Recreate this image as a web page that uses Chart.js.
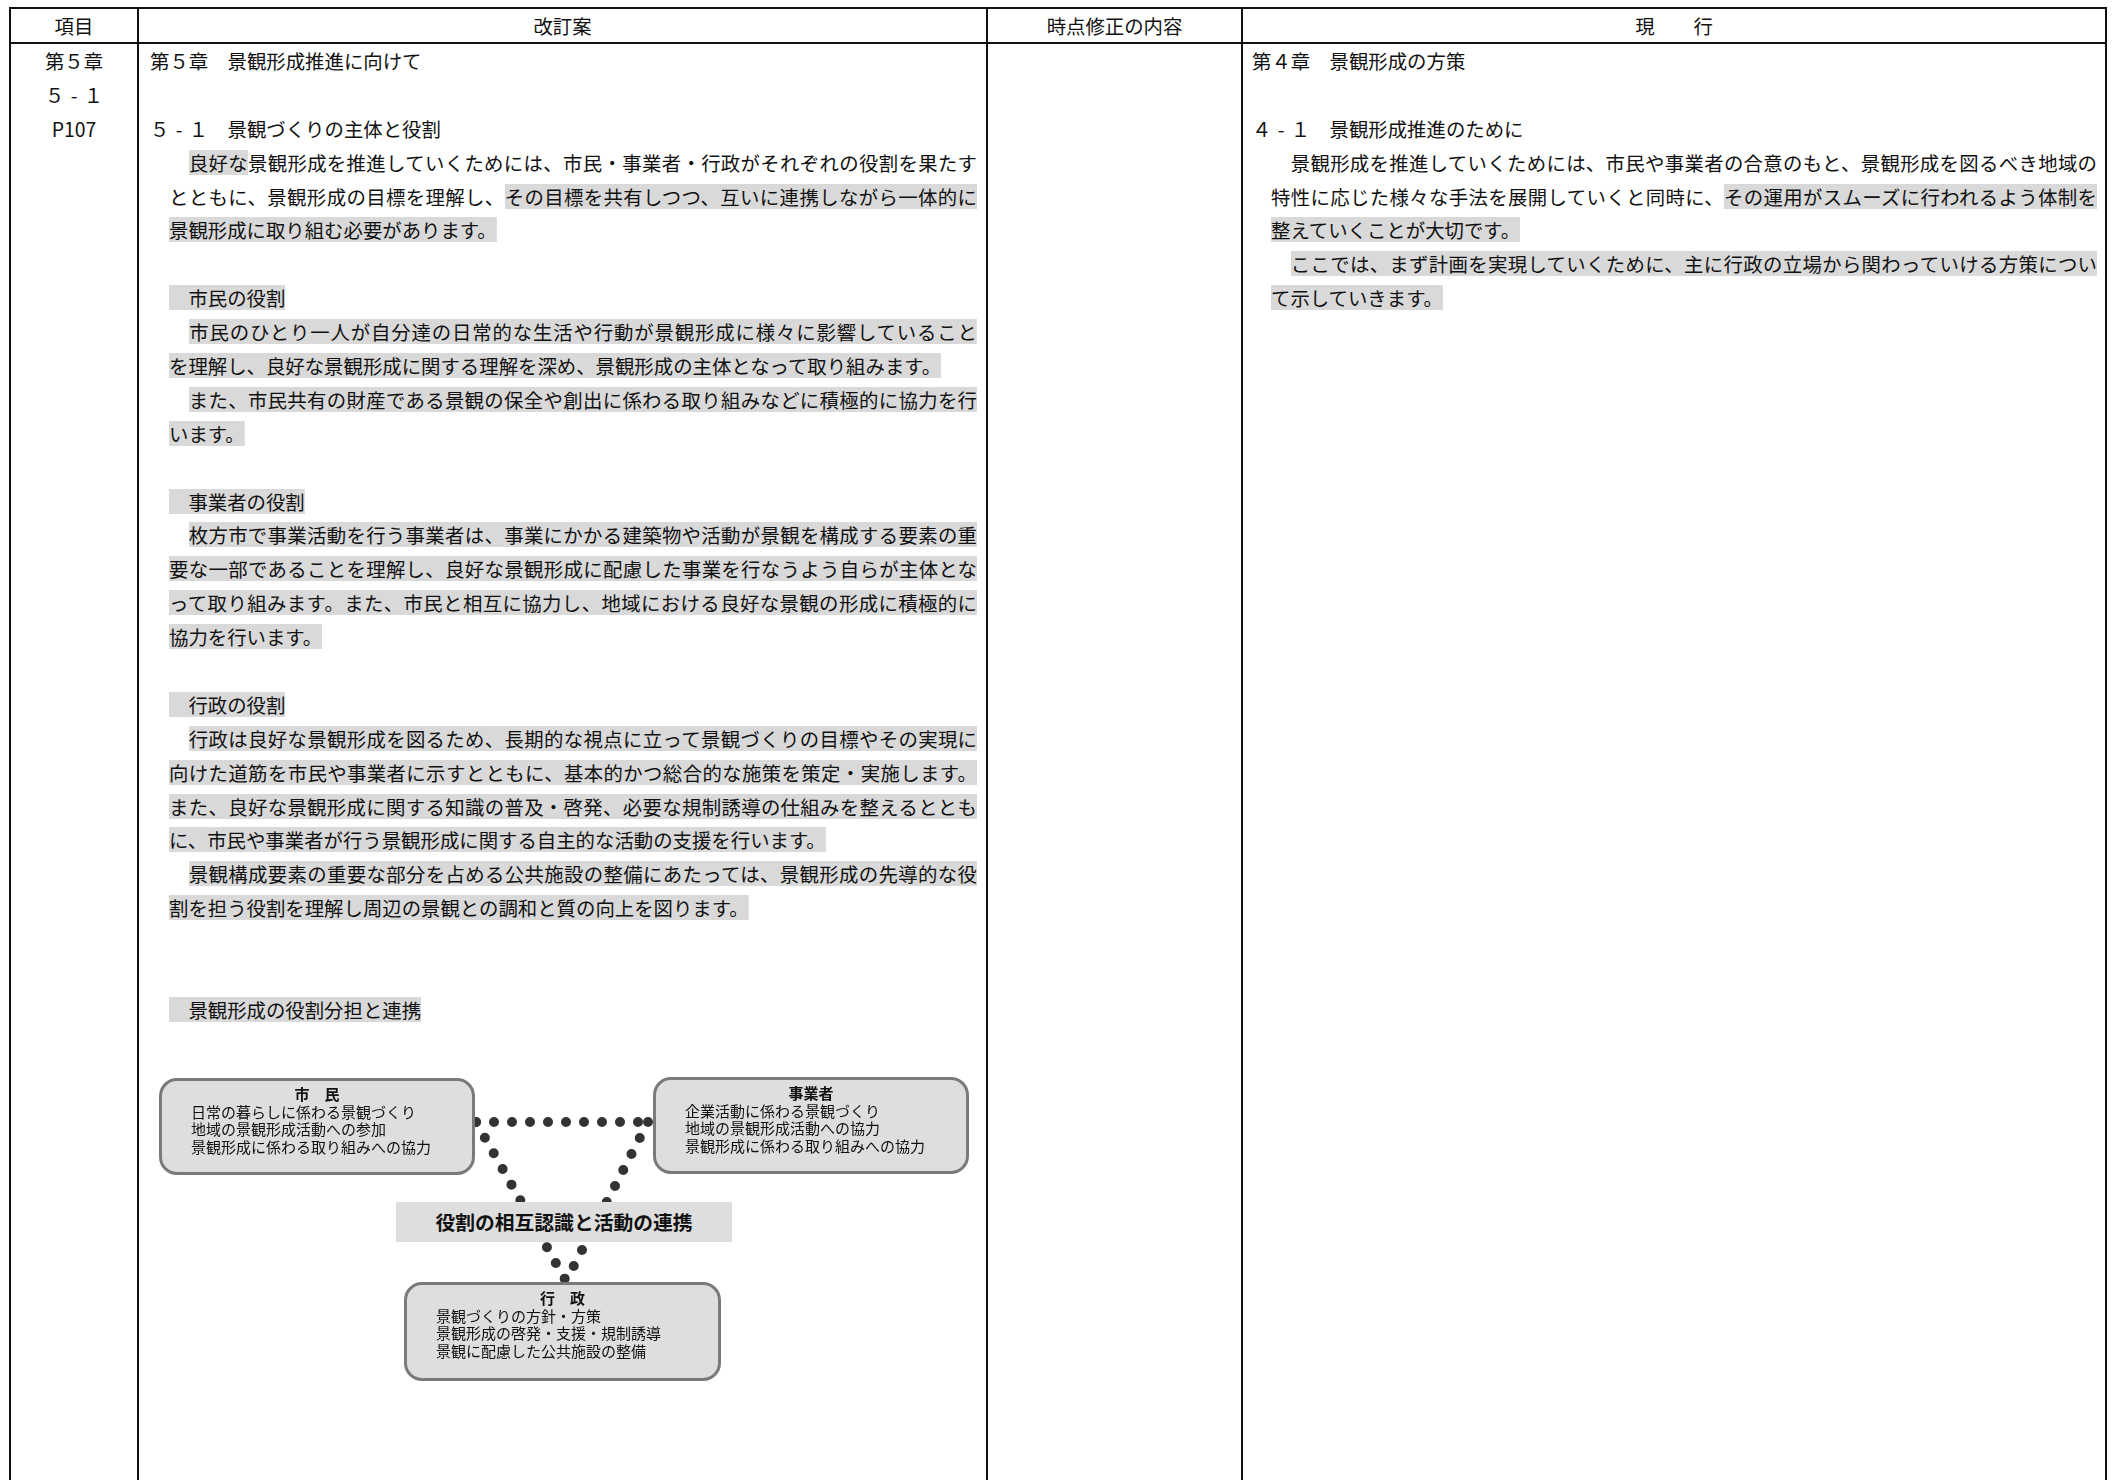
<!DOCTYPE html>
<html lang="ja">
<head>
<meta charset="utf-8">
<script src="https://cdn.jsdelivr.net/npm/chart.js"></script>
<style>
  html, body { margin: 0; padding: 0; background: #fff; }
  body { width: 2116px; height: 1480px; overflow: hidden; position: relative;
         font-family: "Noto Sans CJK JP", "Noto Sans", sans-serif; font-size: 19.4px; color: #111; }
  .vl { position: absolute; top: 7px; width: 2px; height: 1480px; background: #111; }
  .hr { position: absolute; left: 10px; width: 2097px; height: 2px; background: #111; }
  .th { position: absolute; top: 9px; height: 33px; line-height: 33px; text-align: center; }
  .col { position: absolute; top: 44px; }
  .l { height: 33.9px; line-height: 33.9px; white-space: pre; }
  .b { margin-left: 19px; white-space: normal; }
  .j { text-align: justify; text-align-last: justify; }
  .hl { background: linear-gradient(#d9d9d9, #d9d9d9) center / 100% 25px no-repeat; }
  .dash { display: inline-block; width: 1em; text-align: center; }
  .box { position: absolute; box-sizing: border-box; border: 3px solid #7a7a7a; border-radius: 18px;
         background: #dedede; padding: 4px 0 0 29px; font-size: 15px; line-height: 17.5px; z-index: 2; }
  .box .t { font-weight: 700; text-align: center; margin-left: -29px; }
  .lab { position: absolute; left: 396px; top: 1202px; width: 336px; height: 40px; background: #dedede;
         line-height: 40px; text-align: center; font-weight: 700; font-size: 19.8px; z-index: 2; }
  #links { position: absolute; left: 150px; top: 1060px; z-index: 1; }
</style>
</head>
<body>
<!-- table rules -->
<div class="hr" style="top:7px"></div>
<div class="hr" style="top:42px"></div>
<div class="vl" style="left:9px"></div>
<div class="vl" style="left:137px"></div>
<div class="vl" style="left:986px"></div>
<div class="vl" style="left:1241px"></div>
<div class="vl" style="left:2105px"></div>

<div class="th" style="left:11px;width:126px">項目</div>
<div class="th" style="left:139px;width:847px">改訂案</div>
<div class="th" style="left:988px;width:253px">時点修正の内容</div>
<div class="th" style="left:1243px;width:862px">現　　行</div>

<div class="col" style="left:11px;width:126px;text-align:center">
  <div class="l">第５章</div>
  <div class="l">５<span class="dash">-</span>１</div>
  <div class="l">P107</div>
</div>

<div class="col" style="left:150px">
  <div class="l">第５章　景観形成推進に向けて</div>
  <div class="l"></div>
  <div class="l">５<span class="dash">-</span>１　景観づくりの主体と役割</div>
  <div class="l b j" style="width:808px">　<span class="hl">良好な</span>景観形成を推進していくためには、市民・事業者・行政がそれぞれの役割を果たす</div>
  <div class="l b j" style="width:808px">とともに、景観形成の目標を理解し、<span class="hl">その目標を共有しつつ、互いに連携しながら一体的に</span></div>
  <div class="l b"><span class="hl">景観形成に取り組む必要があります。 </span></div>
  <div class="l"></div>
  <div class="l b"><span class="hl">　市民の役割</span></div>
  <div class="l b j" style="width:808px">　<span class="hl">市民のひとり一人が自分達の日常的な生活や行動が景観形成に様々に影響していること</span></div>
  <div class="l b"><span class="hl">を理解し、良好な景観形成に関する理解を深め、景観形成の主体となって取り組みます。 </span></div>
  <div class="l b j" style="width:808px">　<span class="hl">また、市民共有の財産である景観の保全や創出に係わる取り組みなどに積極的に協力を行</span></div>
  <div class="l b"><span class="hl">います。 </span></div>
  <div class="l"></div>
  <div class="l b"><span class="hl">　事業者の役割</span></div>
  <div class="l b j" style="width:808px">　<span class="hl">枚方市で事業活動を行う事業者は、事業にかかる建築物や活動が景観を構成する要素の重</span></div>
  <div class="l b j" style="width:808px"><span class="hl">要な一部であることを理解し、良好な景観形成に配慮した事業を行なうよう自らが主体とな</span></div>
  <div class="l b j" style="width:808px"><span class="hl">って取り組みます。また、市民と相互に協力し、地域における良好な景観の形成に積極的に</span></div>
  <div class="l b"><span class="hl">協力を行います。 </span></div>
  <div class="l"></div>
  <div class="l b"><span class="hl">　行政の役割</span></div>
  <div class="l b j" style="width:808px">　<span class="hl">行政は良好な景観形成を図るため、長期的な視点に立って景観づくりの目標やその実現に</span></div>
  <div class="l b j" style="width:808px"><span class="hl">向けた道筋を市民や事業者に示すとともに、基本的かつ総合的な施策を策定・実施します。</span></div>
  <div class="l b j" style="width:808px"><span class="hl">また、良好な景観形成に関する知識の普及・啓発、必要な規制誘導の仕組みを整えるととも</span></div>
  <div class="l b"><span class="hl">に、市民や事業者が行う景観形成に関する自主的な活動の支援を行います。 </span></div>
  <div class="l b j" style="width:808px">　<span class="hl">景観構成要素の重要な部分を占める公共施設の整備にあたっては、景観形成の先導的な役</span></div>
  <div class="l b"><span class="hl">割を担う役割を理解し周辺の景観との調和と質の向上を図ります。 </span></div>
  <div class="l"></div>
  <div class="l"></div>
  <div class="l b"><span class="hl">　景観形成の役割分担と連携</span></div>
</div>

<div class="col" style="left:1252px">
  <div class="l">第４章　景観形成の方策</div>
  <div class="l"></div>
  <div class="l">４<span class="dash">-</span>１　景観形成推進のために</div>
  <div class="l b j" style="width:826px">　景観形成を推進していくためには、市民や事業者の合意のもと、景観形成を図るべき地域の</div>
  <div class="l b j" style="width:826px">特性に応じた様々な手法を展開していくと同時に、<span class="hl">その運用がスムーズに行われるよう体制を</span></div>
  <div class="l b"><span class="hl">整えていくことが大切です。 </span></div>
  <div class="l b j" style="width:826px">　<span class="hl">ここでは、まず計画を実現していくために、主に行政の立場から関わっていける方策につい</span></div>
  <div class="l b"><span class="hl">て示していきます。 </span></div>
</div>

<!-- diagram -->
<div class="box" style="left:159px;top:1078px;width:316px;height:97px">
  <div class="t">市　民</div>
  <div>日常の暮らしに係わる景観づくり</div>
  <div>地域の景観形成活動への参加</div>
  <div>景観形成に係わる取り組みへの協力</div>
</div>
<div class="box" style="left:653px;top:1077px;width:316px;height:97px">
  <div class="t">事業者</div>
  <div>企業活動に係わる景観づくり</div>
  <div>地域の景観形成活動への協力</div>
  <div>景観形成に係わる取り組みへの協力</div>
</div>
<div class="box" style="left:404px;top:1282px;width:317px;height:99px">
  <div class="t">行　政</div>
  <div>景観づくりの方針・方策</div>
  <div>景観形成の啓発・支援・規制誘導</div>
  <div>景観に配慮した公共施設の整備</div>
</div>
<div class="lab">役割の相互認識と活動の連携</div>

<canvas id="links" width="830" height="340"></canvas>

<script>
// connection point of each actor in the diagram (diagram units)
const nodes = ['市民', '事業者', '行政'];
const linkX = [326, 498, 416];
const linkY = [62, 62, 221];
const links = [[0, 1], [1, 2], [0, 2]];

const datasets = links.map(function (pair) {
  return {
    label: nodes[pair[0]] + '－' + nodes[pair[1]],
    data: pair.map(function (i) { return { x: linkX[i], y: linkY[i] }; }),
    showLine: true,
    borderColor: '#333333',
    borderWidth: 10,
    borderDash: [0, 18],
    borderCapStyle: 'round',
    pointRadius: 0,
    tension: 0,
    fill: false
  };
});

const config = {
  type: 'scatter',
  data: { datasets: datasets },
  options: {
    responsive: false,
    animation: false,
    layout: { padding: 0 },
    plugins: { legend: { display: false }, tooltip: { enabled: false } },
    scales: {
      x: { type: 'linear', min: 0, max: 830, display: false },
      y: { type: 'linear', min: 0, max: 340, reverse: true, display: false }
    }
  }
};

const myChart = new Chart(document.getElementById('links'), config);
</script>
</body>
</html>
